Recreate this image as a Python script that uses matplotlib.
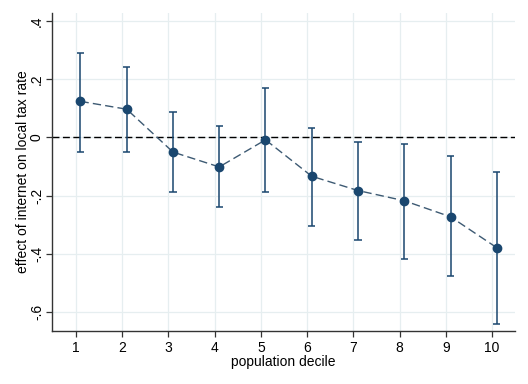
import matplotlib
matplotlib.use("Agg")
import matplotlib.pyplot as plt
import numpy as np

plt.rcParams["font.family"] = ["Liberation Sans", "DejaVu Sans"]

# population decile, point estimates and 95% CI bounds
decile = np.arange(1, 11)
coef = [0.124, 0.097, -0.050, -0.101, -0.008, -0.133, -0.182, -0.217, -0.272, -0.378]
ci_hi = [0.290, 0.243, 0.088, 0.040, 0.170, 0.033, -0.015, -0.022, -0.065, -0.120]
ci_lo = [-0.049, -0.049, -0.186, -0.239, -0.186, -0.302, -0.351, -0.416, -0.475, -0.639]

yticks = [0.4, 0.2, 0.0, -0.2, -0.4, -0.6]
ylabels = [".4", ".2", "0", "-.2", "-.4", "-.6"]

NAVY = "#1a476f"

fig = plt.figure(figsize=(5.28, 3.84), dpi=100)
ax = fig.add_axes([0.099, 0.138, 0.876, 0.828])

xs = decile + 0.1  # estimates drawn slightly right of the tick
c = np.array(coef)
ax.vlines(xs, ci_lo, ci_hi, color=NAVY, lw=1.1, zorder=3)
ax.hlines(ci_lo, xs - 0.08, xs + 0.08, color=NAVY, lw=1.1, zorder=3)
ax.hlines(ci_hi, xs - 0.08, xs + 0.08, color=NAVY, lw=1.1, zorder=3)
ax.plot(xs, c, ls=(0, (6, 3)), color="#3d5a73", lw=1.0, zorder=2)
ax.plot(xs, c, "o", ms=6, color=NAVY, zorder=4)
ax.axhline(0, color="black", ls=(0, (5, 2.5)), lw=1.0, zorder=1)

ax.set_xlim(0.49, 10.49)
ax.set_ylim(-0.664, 0.427)
ax.set_xticks(decile)
ax.set_yticks(yticks)
ax.set_yticklabels(ylabels, rotation=90, va="center")
ax.grid(True, color="#e6eef0", lw=0.9)
ax.set_axisbelow(True)
for s in ("top", "right"):
    ax.spines[s].set_visible(False)
for s in ("left", "bottom"):
    ax.spines[s].set_color("#333333")
    ax.spines[s].set_linewidth(1.0)
ax.tick_params(labelsize=10, length=4, width=0.9, color="#333333")
ax.tick_params(axis="y", pad=2)
ax.set_xlabel("population decile", fontsize=10, labelpad=0)
ax.set_ylabel("effect of internet on local tax rate", fontsize=10, labelpad=0)

fig.savefig("out.png", dpi=100)
